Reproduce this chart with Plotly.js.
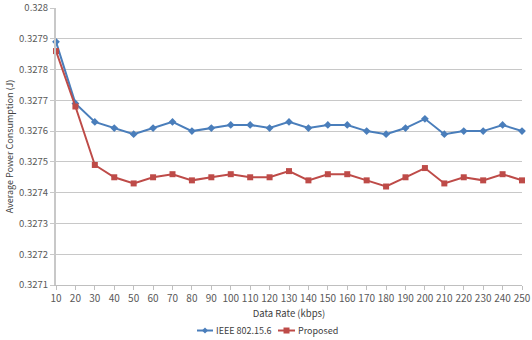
<!DOCTYPE html>
<html><head><meta charset="utf-8">
<script src="https://cdn.plot.ly/plotly-3.0.1.min.js"></script>
<style>html,body{margin:0;padding:0;background:#fff}#c{width:532px;height:340px}</style>
</head><body><div id="c"></div>
<script>
const dataRate = [10,20,30,40,50,60,70,80,90,100,110,120,130,140,150,160,170,180,190,200,210,220,230,240,250];
const ieee = [0.32789,0.32769,0.32763,0.32761,0.32759,0.32761,0.32763,0.3276,0.32761,0.32762,0.32762,0.32761,0.32763,0.32761,0.32762,0.32762,0.3276,0.32759,0.32761,0.32764,0.32759,0.3276,0.3276,0.32762,0.3276];
const proposed = [0.32786,0.32768,0.32749,0.32745,0.32743,0.32745,0.32746,0.32744,0.32745,0.32746,0.32745,0.32745,0.32747,0.32744,0.32746,0.32746,0.32744,0.32742,0.32745,0.32748,0.32743,0.32745,0.32744,0.32746,0.32744];
const yTicks = [0.3271,0.3272,0.3273,0.3274,0.3275,0.3276,0.3277,0.3278,0.3279,0.328];
const yTickText = ['0.3271','0.3272','0.3273','0.3274','0.3275','0.3276','0.3277','0.3278','0.3279','0.328'];
const seriesNames = ['IEEE 802.15.6', 'Proposed'];
const seriesColors = ['#4A7EBB', '#BE4B48'];

const FONT = '"Noto Sans CJK KR", "Noto Sans", sans-serif';
const traces = [
  {x: dataRate, y: ieee, name: seriesNames[0], type: 'scatter', mode: 'lines+markers', cliponaxis: false,
   line: {color: seriesColors[0], width: 2}, marker: {symbol: 'diamond', size: 6, color: seriesColors[0]}},
  {x: dataRate, y: proposed, name: seriesNames[1], type: 'scatter', mode: 'lines+markers', cliponaxis: false,
   line: {color: seriesColors[1], width: 2}, marker: {symbol: 'square', size: 6, color: seriesColors[1]}}
];

// custom compact legend (Excel style)
const legY = -0.1643;
const legItems = [
  {x0: 0.3026, x1: 0.3369, xt: 0.3390, sym: 'diamond'},
  {x0: 0.4764, x1: 0.5129, xt: 0.5150, sym: 'square'}
];
const shapes = [];
const annotations = [];
legItems.forEach((it, i) => {
  const c = seriesColors[i];
  shapes.push({type: 'line', xref: 'paper', yref: 'paper', x0: it.x0, x1: it.x1, y0: legY, y1: legY,
               line: {color: c, width: 2}});
  const xm = (it.x0 + it.x1) / 2;
  if (it.sym === 'square') {
    shapes.push({type: 'rect', xref: 'paper', yref: 'paper', xsizemode: 'pixel', ysizemode: 'pixel',
                 xanchor: xm, yanchor: legY, x0: -3, x1: 3, y0: -3, y1: 3,
                 fillcolor: c, line: {width: 0}});
  } else {
    shapes.push({type: 'path', xref: 'paper', yref: 'paper', xsizemode: 'pixel', ysizemode: 'pixel',
                 xanchor: xm, yanchor: legY, path: 'M 0 3 L 3 0 L 0 -3 L -3 0 Z',
                 fillcolor: c, line: {width: 0}});
  }
  annotations.push({xref: 'paper', yref: 'paper', x: it.xt, y: legY, xanchor: 'left', yanchor: 'middle',
                    text: seriesNames[i], showarrow: false,
                    font: {family: FONT, size: 9, color: '#404040'}});
});

const layout = {
  width: 532, height: 340,
  margin: {l: 56, r: 10, t: 8, b: 55},
  paper_bgcolor: '#fff', plot_bgcolor: '#fff',
  font: {family: FONT, size: 10, color: '#595959'},
  showlegend: false,
  shapes: shapes, annotations: annotations,
  xaxis: {
    range: [10, 250], tickmode: 'array', tickvals: dataRate, ticktext: dataRate.map(String),
    showgrid: false, showline: true, linecolor: '#BFBFBF', linewidth: 1,
    ticks: 'outside', ticklen: 4, tickcolor: '#BFBFBF', zeroline: false, automargin: false,
    tickfont: {family: FONT, size: 10, color: '#595959'},
    title: {text: 'Data Rate (kbps)', font: {family: FONT, size: 9.5, color: '#404040'}, standoff: 6}
  },
  yaxis: {
    range: [0.3271, 0.32800001], tickmode: 'array', tickvals: yTicks, ticktext: yTickText,
    showgrid: true, gridcolor: '#C8C8C8', gridwidth: 1,
    showline: true, linecolor: '#C8C8C8', linewidth: 2,
    ticks: 'outside', ticklen: 4, tickcolor: '#C8C8C8', zeroline: false, automargin: false,
    tickfont: {family: FONT, size: 9.5, color: '#595959'},
    title: {text: 'Average Power Consumption (J)', font: {family: FONT, size: 9, color: '#404040'}, standoff: 4}
  }
};
Plotly.newPlot('c', traces, layout, {displayModeBar: false, staticPlot: true});
</script></body></html>
